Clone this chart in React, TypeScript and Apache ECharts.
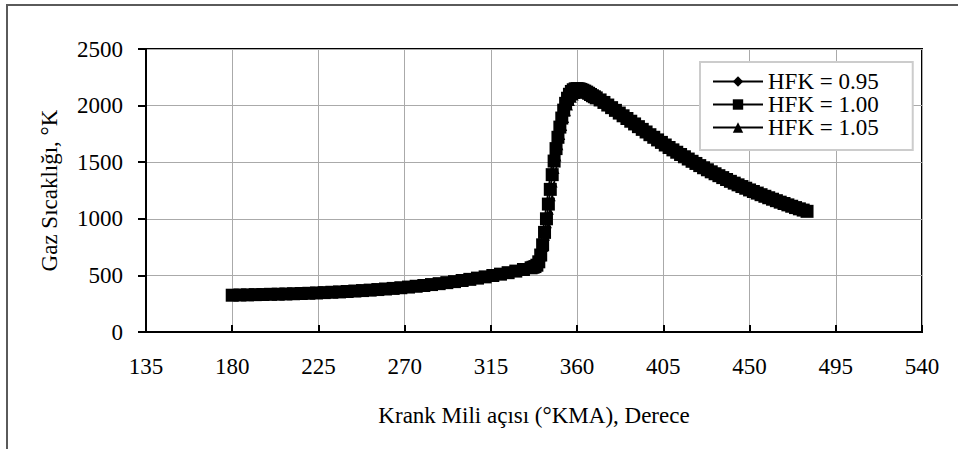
import React, { useEffect, useRef } from "react";
import * as echarts from "echarts";

const FONT = "'Liberation Serif', 'Times New Roman', 'DejaVu Serif', serif";

// Crank angle (°KMA): compression (step 4), combustion (step 1), expansion (step 2)
const angles = [
  180, 184, 188, 192, 196, 200, 204, 208, 212, 216, 220, 224, 228, 232, 236, 240, 244, 248, 252, 256,
  260, 264, 268, 272, 276, 280, 284, 288, 292, 296, 300, 304, 308, 312, 316, 320, 324, 328, 332, 336,
  337, 338, 339, 340, 341, 342, 343, 344, 345, 346, 347, 348, 349, 350, 351, 352, 353, 354, 355, 356,
  357, 358, 359, 360, 361, 362, 363, 364, 365, 366, 367, 368, 369,
  370, 372, 374, 376, 378, 380, 382, 384, 386, 388,
  390, 392, 394, 396, 398, 400, 402, 404, 406, 408,
  410, 412, 414, 416, 418, 420, 422, 424, 426, 428,
  430, 432, 434, 436, 438, 440, 442, 444, 446, 448,
  450, 452, 454, 456, 458, 460, 462, 464, 466, 468,
  470, 472, 474, 476, 478, 480,
];

const hfk095 = [
  330, 332, 333, 335, 336, 338, 339, 341, 343, 345, 347, 350, 353, 356, 359, 363, 367, 371, 375, 380,
  385, 390, 396, 402, 409, 416, 424, 432, 441, 450, 460, 470, 481, 492, 504, 516, 529, 543, 558, 574,
  581, 592, 622, 682, 772, 882, 1002, 1132, 1262, 1392, 1512, 1627, 1727, 1817, 1897, 1967, 2027, 2072, 2107, 2132,
  2150, 2160, 2165, 2167, 2164, 2159, 2152, 2144, 2135, 2125, 2114, 2103, 2091,
  2080, 2062, 2040, 2017, 1994, 1970, 1946, 1922, 1898, 1874,
  1850, 1826, 1802, 1779, 1755, 1732, 1709, 1687, 1664, 1642,
  1621, 1600, 1580, 1560, 1540, 1520, 1501, 1482, 1463, 1445,
  1427, 1410, 1393, 1376, 1359, 1343, 1327, 1312, 1297, 1282,
  1267, 1253, 1239, 1225, 1211, 1198, 1185, 1172, 1159, 1147,
  1135, 1123, 1111, 1100, 1089, 1078,
];

const hfk100 = [
  325, 327, 328, 330, 331, 333, 334, 336, 338, 340, 342, 345, 348, 351, 354, 358, 362, 366, 370, 375,
  380, 385, 391, 397, 404, 411, 419, 427, 436, 445, 455, 465, 476, 487, 499, 511, 524, 538, 552, 567,
  572, 578, 590, 620, 680, 770, 880, 1000, 1130, 1260, 1390, 1510, 1620, 1720, 1810, 1890, 1960, 2020, 2065, 2100,
  2125, 2140, 2148, 2150, 2148, 2143, 2136, 2128, 2119, 2109, 2098, 2087, 2078,
  2068, 2050, 2028, 2005, 1982, 1958, 1934, 1910, 1886, 1862,
  1838, 1814, 1790, 1767, 1743, 1720, 1697, 1675, 1652, 1630,
  1609, 1588, 1568, 1548, 1528, 1508, 1489, 1470, 1451, 1433,
  1415, 1398, 1381, 1364, 1347, 1331, 1315, 1300, 1285, 1270,
  1255, 1241, 1227, 1213, 1199, 1186, 1173, 1160, 1147, 1135,
  1123, 1111, 1099, 1088, 1077, 1066,
];

const hfk105 = [
  320, 322, 323, 325, 326, 328, 329, 331, 333, 335, 337, 340, 343, 346, 349, 353, 357, 361, 365, 370,
  375, 380, 386, 392, 399, 406, 414, 422, 431, 440, 450, 460, 471, 482, 494, 506, 519, 533, 547, 561,
  566, 571, 577, 587, 607, 657, 737, 837, 947, 1067, 1187, 1307, 1427, 1537, 1637, 1727, 1807, 1877, 1937, 1987,
  2027, 2057, 2077, 2089, 2095, 2097, 2096, 2093, 2088, 2082, 2075, 2067, 2058,
  2050, 2030, 2009, 1988, 1966, 1943, 1920, 1896, 1873, 1849,
  1826, 1802, 1778, 1755, 1731, 1708, 1685, 1663, 1640, 1618,
  1597, 1576, 1556, 1536, 1516, 1497, 1478, 1459, 1440, 1422,
  1404, 1387, 1370, 1353, 1336, 1320, 1304, 1289, 1274, 1259,
  1244, 1230, 1216, 1202, 1188, 1175, 1162, 1149, 1136, 1124,
  1112, 1100, 1088, 1077, 1066, 1055,
];

const seriesNames = ["HFK = 0.95", "HFK = 1.00", "HFK = 1.05"];
const xTitle = "Krank Mili açısı (°KMA), Derece";
const yTitle = "Gaz Sıcaklığı, °K";

const pairs = (ys: number[]) => angles.map((a, i) => [a, ys[i]]);

export default function App() {
  const ref = useRef<HTMLDivElement>(null);
  useEffect(() => {
    if (!ref.current) return;
    const chart = echarts.init(ref.current, null, { renderer: "svg" });
    const labelStyle = { color: "#000", fontSize: 23, fontFamily: FONT };
    chart.setOption({
      animation: false,
      backgroundColor: "#fff",
      textStyle: { fontFamily: FONT, color: "#000" },
      graphic: [
        {
          type: "rect",
          silent: true,
          z: 100,
          shape: { x: 7, y: 5, width: 1000, height: 1000 },
          style: { fill: "none", stroke: "#5a5a5a", lineWidth: 2 },
        },
      ],
      grid: {
        left: 146,
        right: 36,
        top: 49,
        bottom: 117,
        show: true,
        borderColor: "#000",
        borderWidth: 2,
        backgroundColor: "transparent",
      },
      xAxis: {
        type: "value",
        min: 135,
        max: 540,
        interval: 45,
        name: xTitle,
        nameLocation: "middle",
        nameGap: 72,
        nameTextStyle: labelStyle,
        axisLine: { show: true, lineStyle: { color: "#000", width: 2 } },
        axisTick: { show: true, inside: true, length: 7, lineStyle: { color: "#000", width: 2 } },
        axisLabel: { ...labelStyle, margin: 23, formatter: (v: number) => String(v) },
        splitLine: { show: true, lineStyle: { color: "#aaaaaa", width: 1 } },
      },
      yAxis: {
        type: "value",
        min: 0,
        max: 2500,
        interval: 500,
        name: yTitle,
        nameLocation: "middle",
        nameGap: 85,
        nameRotate: 90,
        nameTextStyle: labelStyle,
        axisLine: { show: true, lineStyle: { color: "#000", width: 2 } },
        axisTick: { show: true, inside: false, length: 8, lineStyle: { color: "#000", width: 2 } },
        axisLabel: { ...labelStyle, margin: 23, formatter: (v: number) => String(v) },
        splitLine: { show: true, lineStyle: { color: "#aaaaaa", width: 1 } },
      },
      legend: {
        left: 700,
        top: 62,
        orient: "vertical",
        itemWidth: 50,
        itemHeight: 13,
        itemGap: 0,
        padding: [8, 34, 11, 12],
        backgroundColor: "#fff",
        borderColor: "#cccccc",
        borderWidth: 2,
        textStyle: { ...labelStyle, lineHeight: 21 },
        data: seriesNames,
      },
      series: [
        {
          name: seriesNames[0],
          type: "line",
          data: pairs(hfk095),
          symbol: "diamond",
          symbolSize: 7,
          lineStyle: { color: "#000", width: 1.5 },
          itemStyle: { color: "#000" },
        },
        {
          name: seriesNames[1],
          type: "line",
          data: pairs(hfk100),
          symbol: "rect",
          symbolSize: 13,
          lineStyle: { color: "#000", width: 2 },
          itemStyle: { color: "#000" },
        },
        {
          name: seriesNames[2],
          type: "line",
          data: pairs(hfk105),
          symbol: "triangle",
          symbolSize: 7,
          lineStyle: { color: "#000", width: 1.5 },
          itemStyle: { color: "#000" },
        },
      ],
    });
    return () => chart.dispose();
  }, []);
  return (
    <div
      ref={ref}
      style={{ position: "fixed", left: 0, top: 0, width: 958, height: 449 }}
    />
  );
}
